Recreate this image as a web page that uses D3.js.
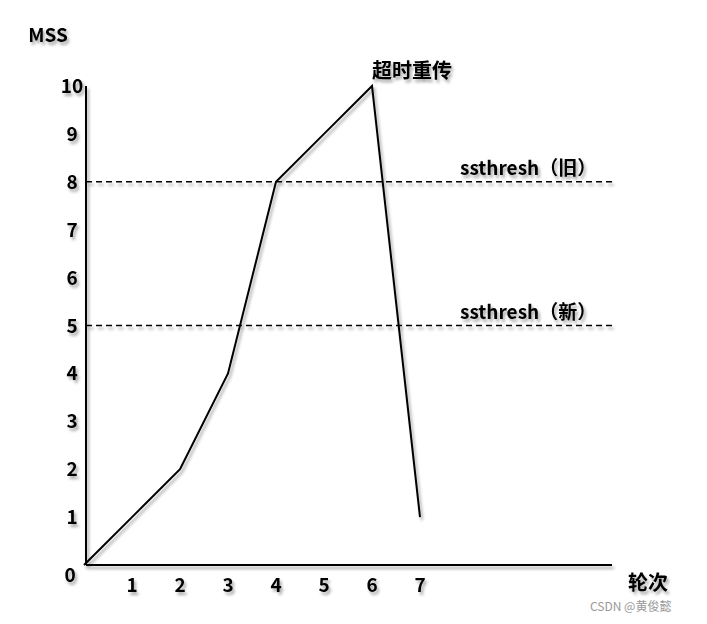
<!DOCTYPE html>
<html><head><meta charset="utf-8">
<script src="https://cdn.jsdelivr.net/npm/d3@7"></script>
<style>body{margin:0;background:#fff}text{font-family:"Comic Sans MS","Noto Sans CJK SC",sans-serif;font-weight:bold;fill:#000}</style>
</head><body>
<svg id="chart" width="707" height="624"></svg>
<script>
var rounds = [0, 1, 2, 3, 4, 5, 6, 7];
var cwnd = [0, 1, 2, 4, 8, 9, 10, 1];
var xTicks = [1, 2, 3, 4, 5, 6, 7];
var yTicks = [1, 2, 3, 4, 5, 6, 7, 8, 9, 10];
var thresholds = [{v: 8, label: "ssthresh（旧）"}, {v: 5, label: "ssthresh（新）"}];

var svg = d3.select("#chart");
var defs = svg.append("defs");
var f = defs.append("filter").attr("id", "sh").attr("x", "-20%").attr("y", "-20%").attr("width", "140%").attr("height", "160%");
f.append("feDropShadow").attr("dx", 2).attr("dy", 3).attr("stdDeviation", 1.5).attr("flood-color", "#000").attr("flood-opacity", 0.35);

var x = d3.scaleLinear().domain([0, 7]).range([84, 420]);
var y = d3.scaleLinear().domain([0, 10]).range([565, 86]);
var g = svg.append("g").attr("filter", "url(#sh)");

// axes
g.append("line").attr("x1", 86).attr("x2", 612).attr("y1", y(0)).attr("y2", y(0)).attr("stroke", "#000").attr("stroke-width", 2);
g.append("line").attr("x1", 86).attr("x2", 86).attr("y1", y(0)).attr("y2", y(10)).attr("stroke", "#000").attr("stroke-width", 2);

g.selectAll(".xt").data(xTicks).join("text").attr("x", d => x(d)).attr("y", 592)
  .attr("text-anchor", "middle").style("font-size", "19px").text(d => d);
g.selectAll(".yt").data(yTicks).join("text").attr("x", 72).attr("y", d => y(d) + 7)
  .attr("text-anchor", "middle").style("font-size", "19px").text(d => d);
g.append("text").attr("x", 70).attr("y", 582).attr("text-anchor", "middle").style("font-size", "19px").text("0");
g.append("text").attr("x", 48).attr("y", 42).attr("text-anchor", "middle").style("font-size", "19px").text("MSS");
g.append("text").attr("x", 648).attr("y", 590).attr("text-anchor", "middle").style("font-size", "20px").text("轮次");

// thresholds
g.selectAll(".th").data(thresholds).join("line").attr("x1", 86).attr("x2", 615)
  .attr("y1", d => y(d.v)).attr("y2", d => y(d.v)).attr("stroke", "#000").attr("stroke-width", 1.6).attr("stroke-dasharray", "6,4");
g.selectAll(".tl").data(thresholds).join("text").attr("x", 460).attr("y", d => y(d.v) - 7)
  .style("font-size", "19px").text(d => d.label);

// curve
g.append("path").datum(rounds.map((r, i) => [r, cwnd[i]]))
  .attr("d", d3.line().x(d => x(d[0])).y(d => y(d[1])))
  .attr("fill", "none").attr("stroke", "#000").attr("stroke-width", 2);
g.append("text").attr("x", 372).attr("y", 78).style("font-size", "20px").text("超时重传");

svg.append("text").attr("x", 590).attr("y", 611).style("font-size", "12px").style("font-weight", "normal")
  .style("font-family", "'Noto Sans CJK SC',sans-serif").style("fill", "#999").text("CSDN @黄俊懿");
</script>
</body></html>
